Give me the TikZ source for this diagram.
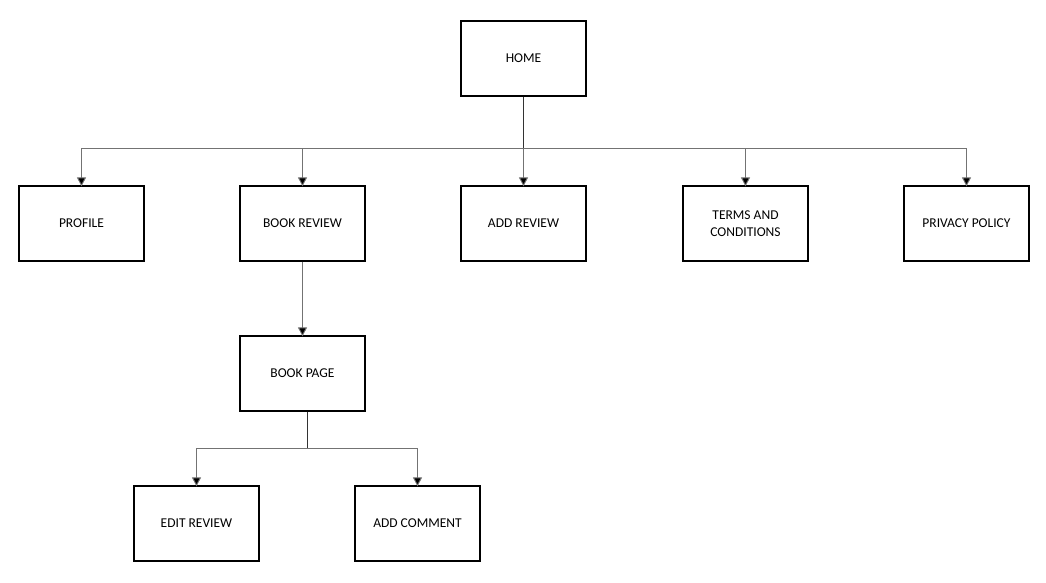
\documentclass[tikz,border=0pt]{standalone}
\usepackage{fontspec}
\setmainfont{Carlito}
\usetikzlibrary{arrows.meta}
\begin{document}
\begin{tikzpicture}[x=1pt,y=-1pt,
  page/.style={draw=black,line width=1.3pt,fill=white,minimum width=125pt,minimum height=75pt,
    inner sep=0pt,align=center,font=\fontsize{13.5}{17}\selectfont},
  link/.style={draw=black!55,line width=0.9pt,-{Triangle[width=9pt,length=9pt,fill=black]}},
  trunk/.style={draw=black!80,line width=1pt}]
\useasboundingbox (0,0) rectangle (1046,582);
% pages
\node[page] (home) at (523.5,58.5) {HOME};
\node[page] (profile) at (81.5,223.5) {PROFILE};
\node[page] (bookreview) at (302.5,223.5) {BOOK REVIEW};
\node[page] (addreview) at (523.5,223.5) {ADD REVIEW};
\node[page] (terms) at (745.5,223.5) {TERMS AND\\CONDITIONS};
\node[page] (privacy) at (966.5,223.5) {PRIVACY POLICY};
\node[page] (bookpage) at (302.5,373.5) {BOOK PAGE};
\node[page] (editreview) at (196.5,523.5) {EDIT REVIEW};
\node[page] (addcomment) at (417.5,523.5) {ADD COMMENT};
% top-level branching
\coordinate (hbus) at (523.5,148.5);
\draw[trunk] (home.south) -- (hbus);
\foreach \n in {profile,bookreview,addreview,terms,privacy}
  \draw[link] (hbus) -| ([yshift=-1pt]\n.north);
% book review to book page
\draw[link] (bookreview.south) -- ([yshift=-1pt]bookpage.north);
% book page branching
\coordinate (pbus) at (307,448);
\draw[trunk] ([xshift=4.5pt]bookpage.south) -- (pbus);
\foreach \n in {editreview,addcomment}
  \draw[link] (pbus) -| ([yshift=-1pt]\n.north);
\end{tikzpicture}
\end{document}
